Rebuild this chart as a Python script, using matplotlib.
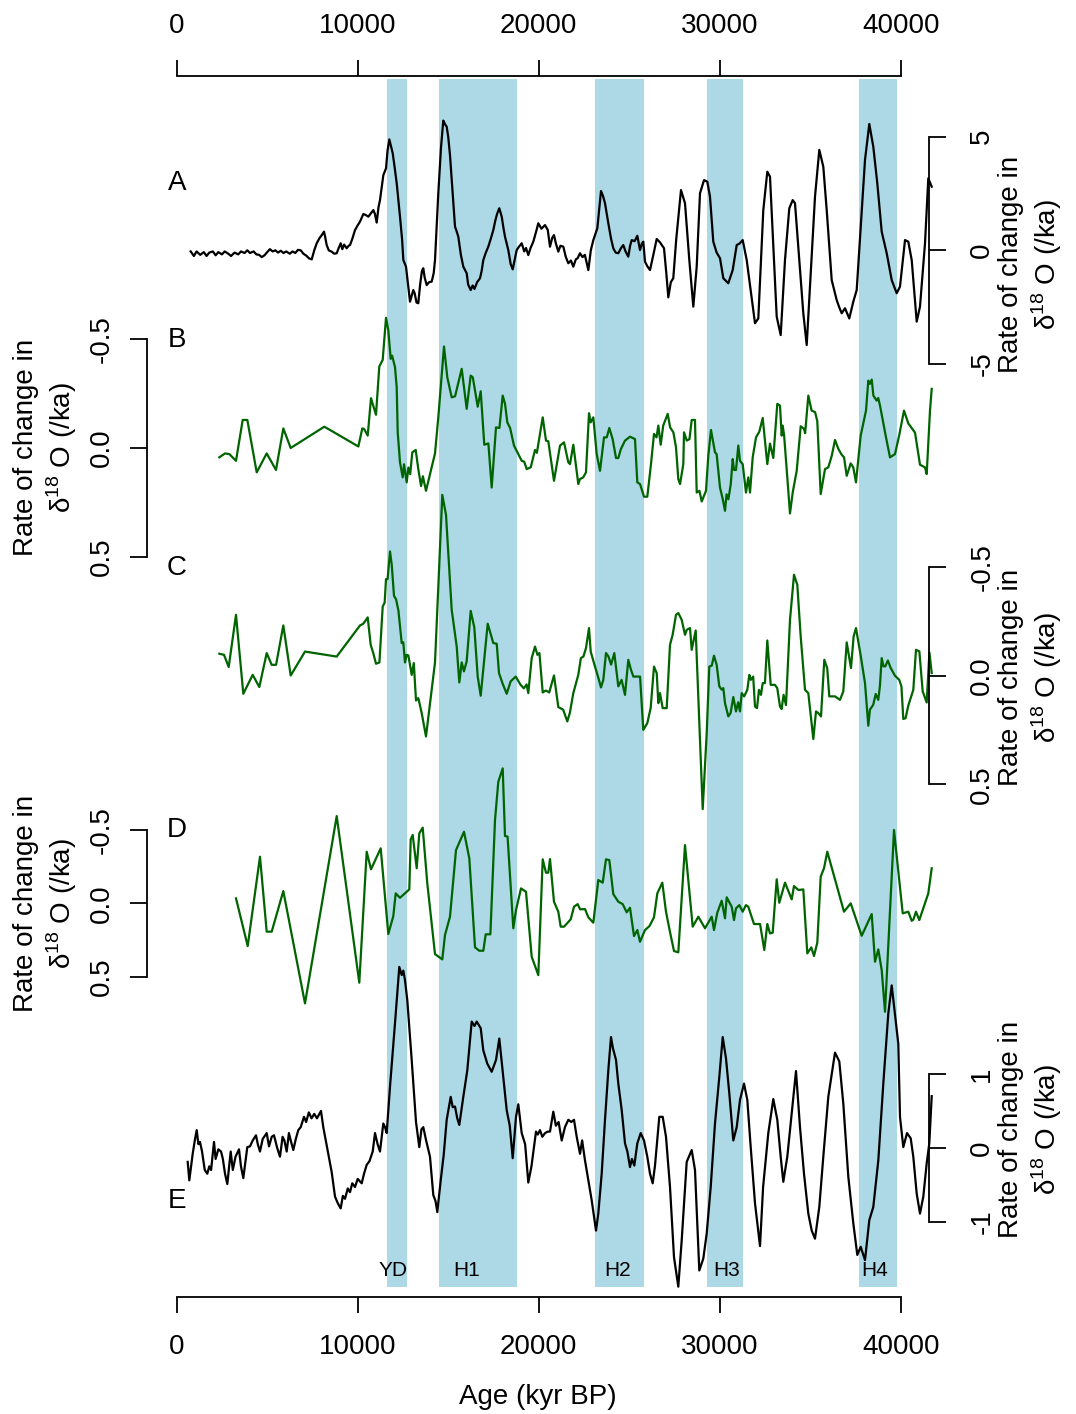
import matplotlib
matplotlib.use("Agg")
import matplotlib.pyplot as plt

plt.rcParams["font.family"] = ["Liberation Sans", "DejaVu Sans"]
plt.rcParams["mathtext.fontset"] = "custom"
plt.rcParams["mathtext.rm"] = "Liberation Sans"

# Heinrich / Younger Dryas intervals (yr BP)
BAND_START = [11600, 14500, 23100, 29300, 37700]
BAND_END = [12700, 18800, 25800, 31300, 39800]
BAND_LABELS = ["YD", "H1", "H2", "H3", "H4"]
BAND_LABEL_AGE = [11950, 16000, 24350, 30400, 38550]
AGE_TICKS = [0, 10000, 20000, 30000, 40000]

# A: high-resolution record, rate of change (/ka)
A_AGE = [773, 950, 1100, 1300, 1500, 1650, 1800, 2000, 2150, 2300, 2500, 2650,
         2850, 3000, 3200, 3400, 3550, 3750, 3900, 4050, 4250, 4400, 4550, 4700,
         4850, 5000, 5150, 5300, 5450, 5600, 5750, 5900, 6050, 6250, 6400, 6550,
         6700, 6850, 7000, 7182, 7300, 7459, 7600, 7735, 7900, 8000, 8138, 8200,
         8287, 8400, 8564, 8700, 8840, 8950, 9061, 9150, 9250, 9392, 9500, 9575,
         9700, 9851, 10000, 10127, 10312, 10450, 10589, 10700, 10865, 10950,
         11050, 11150, 11232, 11417, 11565, 11650, 11748, 11850, 11935, 12050,
         12155, 12250, 12337, 12450, 12522, 12669, 12780, 12890, 12980, 13072,
         13150, 13250, 13348, 13450, 13550, 13624, 13700, 13812, 13950, 14088,
         14200, 14271, 14360, 14453, 14600, 14729, 14820, 14917, 15000, 15099,
         15250, 15376, 15460, 15558, 15700, 15834, 16022, 16100, 16243, 16350,
         16450, 16600, 16757, 16850, 16939, 17080, 17215, 17350, 17492, 17600,
         17700, 17823, 17956, 18050, 18138, 18320, 18450, 18564, 18680, 18785,
         18900, 19061, 19200, 19300, 19425, 19550, 19702, 19850, 19978, 20150,
         20348, 20500, 20624, 20750, 20845, 20950, 21083, 21200, 21359, 21500,
         21636, 21780, 21912, 22050, 22150, 22282, 22420, 22550, 22742, 22880,
         23018, 23239, 23442, 23550, 23663, 23846, 24000, 24122, 24250, 24398,
         24550, 24674, 24800, 24950, 25050, 25138, 25300, 25448, 25597, 25700,
         25779, 25873, 26000, 26149, 26331, 26519, 26700, 26923, 27050, 27161,
         27300, 27436, 27600, 27862, 28083, 28321, 28542, 28729, 28912, 29133,
         29315, 29464, 29646, 29830, 30017, 30199, 30475, 30718, 30939, 31100,
         31271, 31492, 31750, 31950, 32133, 32409, 32630, 32779, 32961, 33149,
         33370, 33607, 33845, 34033, 34160, 34398, 34619, 34807, 35028, 35265,
         35503, 35724, 35912, 36188, 36464, 36600, 36740, 36923, 37160, 37381,
         37569, 37790, 38028, 38265, 38486, 38707, 38950, 39227, 39503, 39779,
         39961, 40238, 40420, 40608, 40884, 41066, 41343, 41525, 41713]
A_RATE = [-0.05, -0.25, -0.05, -0.20, -0.08, -0.25, -0.10, -0.05, -0.22, -0.08,
          -0.18, -0.05, -0.15, -0.25, -0.10, -0.18, -0.05, -0.12, 0.00, -0.12,
          -0.05, -0.18, -0.20, -0.30, -0.22, -0.08, 0.05, -0.05, 0.00, -0.10,
          -0.02, -0.12, -0.05, -0.15, -0.05, -0.12, 0.02, 0.00, -0.15, -0.25,
          -0.35, -0.40, 0.00, 0.31, 0.55, 0.65, 0.82, 0.60, 0.23, 0.00, -0.06,
          -0.15, -0.13, 0.10, 0.31, 0.05, 0.25, 0.09, 0.20, 0.23, 0.50, 0.89,
          1.10, 1.26, 1.60, 1.55, 1.48, 1.60, 1.77, 1.60, 1.22, 1.90, 2.21, 3.31,
          3.61, 4.40, 4.88, 4.55, 4.27, 3.60, 2.95, 2.20, 1.48, 0.50, -0.43,
          -0.72, -1.50, -2.26, -2.00, -1.75, -1.90, -2.30, -2.33, -1.50, -0.90,
          -0.79, -1.20, -1.53, -1.40, -1.38, -1.00, -0.43, 1.00, 2.51, 4.50,
          5.71, 5.55, 5.44, 5.00, 4.19, 2.50, 1.04, 0.85, 0.60, -0.20, -0.72,
          -1.01, -1.50, -1.75, -1.55, -1.70, -1.40, -1.23, -0.90, -0.43, -0.10,
          0.16, 0.50, 0.89, 1.30, 1.60, 1.85, 1.48, 1.00, 0.60, 0.01, -0.60,
          -0.84, -0.40, 0.01, 0.15, 0.31, -0.05, 0.10, -0.21, 0.10, 0.38, 0.80,
          1.19, 0.95, 1.11, 0.90, 0.16, 0.55, 0.67, 0.30, -0.06, 0.20, 0.16,
          -0.30, -0.57, -0.45, -0.72, -0.40, -0.35, -0.13, -0.30, -0.20, -0.87,
          0.00, 0.45, 0.97, 2.61, 2.40, 2.07, 1.19, 0.50, 0.09, -0.10, -0.13,
          0.10, 0.23, -0.05, -0.28, 0.20, 0.45, 0.40, 0.64, 0.01, 0.30, 0.38,
          -0.50, -0.70, -0.87, -0.21, 0.50, 0.35, 0.09, -1.00, -2.07, -1.40,
          -1.23, 0.50, 2.65, 2.07, -0.43, -2.48, -0.72, 2.51, 3.09, 3.02, 2.36,
          0.38, -0.10, -0.35, -1.23, -1.45, -0.87, 0.23, 0.30, 0.45, -0.43,
          -2.00, -3.21, -3.00, 1.77, 3.46, 3.24, 0.16, -2.92, -3.73, -0.43, 1.85,
          2.21, 2.07, -0.43, -2.77, -4.17, -1.01, 2.36, 4.42, 3.68, 1.77, -1.31,
          -2.19, -2.50, -2.77, -2.55, -3.00, -2.26, -1.75, 1.04, 3.98, 5.56,
          4.56, 2.95, 0.82, -0.13, -1.31, -1.89, -1.60, 0.45, 0.38, -0.43, -3.14,
          -2.48, 0.31, 3.17, 2.80]

# B
B_AGE = [2356, 2669, 2908, 3276, 3646, 3902, 4420, 4972, 5486, 5890, 6298, 8157,
         10036, 10254, 10350, 10553, 10735, 11011, 11193, 11381, 11564, 11691,
         11823, 11900, 12061, 12155, 12210, 12337, 12486, 12560, 12707, 12800,
         12900, 13017, 13204, 13348, 13500, 13600, 13773, 14271, 14453, 14768,
         14950, 15193, 15380, 15746, 16022, 16243, 16360, 16630, 16796, 16994,
         17220, 17403, 17641, 17830, 18011, 18140, 18265, 18420, 18635, 18873,
         19061, 19200, 19337, 19560, 19796, 19900, 20221, 20403, 20530, 20845,
         21177, 21398, 21636, 21730, 21912, 22188, 22280, 22460, 22613, 22779,
         22870, 23018, 23204, 23387, 23608, 23760, 23901, 24085, 24271, 24400,
         24540, 24768, 25044, 25320, 25448, 25600, 25818, 26000, 26204, 26370,
         26510, 26609, 26740, 26880, 27127, 27260, 27440, 27586, 27713, 27810,
         27990, 28028, 28180, 28330, 28453, 28635, 28729, 28880, 29006, 29243,
         29370, 29519, 29740, 29830, 30017, 30170, 30293, 30380, 30480, 30610,
         30718, 30790, 30900, 31028, 31120, 31270, 31453, 31580, 31674, 31823,
         32006, 32188, 32376, 32630, 32779, 32961, 33182, 33330, 33425, 33480,
         33560, 33702, 33884, 34033, 34254, 34475, 34660, 34720, 34896, 35080,
         35270, 35392, 35580, 35818, 36000, 36190, 36370, 36560, 36740, 36870,
         37017, 37238, 37380, 37530, 37790, 38083, 38210, 38300, 38400, 38490,
         38670, 38760, 38857, 39188, 39409, 39685, 39923, 40182, 40420, 40790,
         41066, 41343, 41436, 41619, 41713]
B_RATE = [0.043, 0.025, 0.028, 0.059, -0.129, -0.129, 0.112, 0.025, 0.101,
          -0.090, 0.000, -0.098, -0.007, -0.090, -0.088, -0.057, -0.229, -0.153,
          -0.375, -0.405, -0.599, -0.541, -0.410, -0.425, -0.372, -0.279,
          -0.072, 0.066, 0.135, 0.075, 0.158, 0.090, 0.120, 0.020, 0.009, 0.097,
          0.175, 0.130, 0.197, 0.025, -0.141, -0.467, -0.325, -0.233, -0.238,
          -0.364, -0.180, -0.333, -0.325, -0.190, -0.261, -0.015, -0.021, 0.182,
          -0.095, -0.092, -0.241, -0.203, -0.118, -0.092, -0.011, 0.028, 0.059,
          0.063, 0.097, 0.089, 0.009, 0.022, -0.141, -0.034, -0.031, 0.151,
          -0.011, -0.026, 0.066, 0.074, -0.015, 0.166, 0.143, 0.135, 0.112,
          -0.160, -0.118, -0.141, 0.028, 0.105, -0.049, -0.049, -0.092, -0.041,
          0.046, 0.046, 0.005, -0.034, -0.052, -0.041, 0.158, 0.166, 0.224,
          0.224, 0.074, -0.065, -0.049, -0.103, -0.015, -0.103, -0.157, -0.095,
          -0.072, -0.003, 0.143, 0.166, 0.074, -0.072, -0.034, -0.041, -0.129,
          -0.129, 0.205, 0.197, 0.246, 0.197, 0.036, -0.083, 0.020, 0.028, 0.182,
          0.236, 0.289, 0.213, 0.236, 0.167, 0.051, 0.101, 0.101, -0.011, 0.059,
          0.074, 0.205, 0.135, 0.205, 0.043, -0.049, -0.075, -0.138, 0.074,
          -0.020, 0.046, -0.203, -0.195, -0.057, -0.103, -0.057, 0.097, 0.301,
          0.205, 0.105, -0.100, -0.088, -0.068, -0.241, -0.172, -0.165, -0.123,
          0.212, 0.097, 0.089, 0.036, -0.037, 0.005, 0.031, 0.043, 0.128, 0.071,
          0.089, 0.158, -0.057, -0.172, -0.310, -0.295, -0.315, -0.241, -0.218,
          -0.230, -0.195, -0.049, 0.043, 0.028, -0.061, -0.172, -0.113, -0.071,
          0.077, 0.089, 0.120, -0.172, -0.272]

# C
C_AGE = [2356, 2613, 2873, 3276, 3680, 4199, 4564, 4972, 5249, 5490, 5890, 6298,
         7088, 8840, 10127, 10310, 10553, 10718, 10860, 11011, 11200, 11381,
         11490, 11564, 11650, 11785, 11880, 12006, 12120, 12250, 12431, 12520,
         12613, 12700, 12800, 12983, 13100, 13221, 13350, 13536, 13773, 14271,
         14674, 14878, 15193, 15470, 15613, 15746, 15870, 16020, 16243, 16442,
         16630, 16796, 17182, 17492, 17680, 17807, 18010, 18232, 18450, 18729,
         19000, 19180, 19330, 19425, 19613, 19796, 19930, 20040, 20221, 20400,
         20580, 20845, 21083, 21350, 21580, 21720, 21912, 22188, 22330, 22470,
         22613, 22779, 22873, 23110, 23300, 23442, 23570, 23718, 23850, 24000,
         24177, 24398, 24580, 24768, 24950, 25100, 25230, 25470, 25600, 25779,
         26000, 26185, 26370, 26520, 26609, 26700, 26850, 27072, 27254, 27400,
         27586, 27713, 27900, 28083, 28180, 28360, 28453, 28674, 29061, 29282,
         29425, 29560, 29685, 29830, 29978, 30110, 30200, 30293, 30475, 30600,
         30751, 30900, 31020, 31120, 31215, 31350, 31525, 31636, 31720, 31850,
         31950, 32060, 32170, 32280, 32376, 32500, 32630, 32818, 33050, 33180,
         33331, 33420, 33530, 33663, 33884, 34105, 34287, 34475, 34713, 34896,
         35172, 35320, 35450, 35597, 35779, 35940, 36055, 36370, 36646, 36829,
         37017, 37254, 37400, 37530, 37780, 38028, 38210, 38300, 38480, 38620,
         38760, 38850, 38950, 39050, 39150, 39290, 39450, 39685, 39920, 40040,
         40144, 40270, 40420, 40696, 40845, 41030, 41215, 41436, 41586, 41713]
C_RATE = [-0.100, -0.095, -0.039, -0.279, 0.084, -0.003, 0.053, -0.103, -0.049,
          -0.049, -0.230, 0.000, -0.110, -0.087, -0.230, -0.238, -0.267, -0.141,
          -0.103, -0.054, -0.060, -0.317, -0.335, -0.443, -0.443, -0.570,
          -0.509, -0.366, -0.350, -0.298, -0.149, -0.152, -0.060, -0.095,
          -0.092, -0.003, -0.057, 0.115, 0.104, 0.173, 0.280, -0.060, -0.830,
          -0.739, -0.302, -0.133, 0.032, -0.060, -0.019, -0.065, -0.297, -0.221,
          0.005, 0.093, -0.238, -0.149, -0.146, -0.011, 0.038, 0.084, 0.027,
          0.005, 0.043, 0.059, 0.041, 0.081, -0.080, -0.133, -0.095, -0.103,
          0.078, 0.069, 0.078, 0.000, 0.145, 0.157, 0.211, 0.172, 0.081, -0.003,
          -0.080, -0.087, -0.126, -0.218, -0.110, -0.041, 0.012, 0.055, 0.020,
          -0.103, -0.088, -0.050, -0.103, 0.050, 0.020, 0.089, -0.072, -0.026,
          0.005, 0.005, 0.005, 0.250, 0.219, 0.150, -0.041, -0.011, 0.127, 0.081,
          0.150, 0.150, -0.141, -0.187, -0.279, -0.287, -0.256, -0.187, -0.210,
          -0.218, -0.118, -0.207, 0.614, 0.265, -0.041, -0.045, -0.091, -0.050,
          0.050, 0.065, 0.058, 0.127, 0.188, 0.173, 0.099, 0.165, 0.123, 0.165,
          0.081, 0.096, 0.066, -0.003, 0.020, 0.005, 0.142, 0.150, 0.066, 0.089,
          0.035, 0.035, -0.161, 0.043, 0.043, 0.058, 0.142, 0.154, 0.089, 0.136,
          -0.256, -0.463, -0.417, -0.179, 0.066, 0.081, 0.292, 0.165, 0.173,
          0.188, -0.072, -0.034, 0.096, 0.096, 0.112, 0.073, -0.152, -0.034,
          -0.180, -0.218, -0.096, 0.035, 0.231, 0.157, 0.135, 0.085, 0.112,
          0.050, -0.080, -0.042, -0.042, -0.069, -0.034, 0.001, 0.020, 0.050,
          0.200, 0.196, 0.138, 0.066, -0.118, -0.111, 0.073, 0.124, -0.106,
          -0.011]

# D
D_AGE = [3276, 3923, 4602, 4972, 5249, 5890, 7088, 8840, 10088, 10497, 10735,
         11271, 11691, 11967, 12099, 12337, 12851, 12928, 13039, 13260, 13403,
         13591, 13845, 14271, 14674, 14823, 15099, 15431, 15873, 16166, 16481,
         16718, 16940, 17072, 17330, 17586, 17768, 18011, 18138, 18280, 18597,
         18746, 19022, 19298, 19613, 19978, 20221, 20403, 20530, 20624, 20845,
         21083, 21215, 21400, 21768, 21950, 22155, 22290, 22560, 22742, 23018,
         23293, 23536, 23718, 23901, 24122, 24398, 24640, 24861, 25044, 25265,
         25450, 25597, 25873, 26120, 26370, 26553, 26829, 27033, 27250, 27475,
         27713, 28083, 28508, 28818, 29188, 29558, 29685, 29867, 30110, 30293,
         30387, 30663, 30790, 30900, 31083, 31271, 31450, 31580, 31895, 32230,
         32464, 32630, 32780, 32928, 33149, 33293, 33608, 33978, 34105, 34350,
         34619, 34840, 35060, 35210, 35392, 35580, 35762, 35945, 36867, 37238,
         37845, 38398, 38580, 38763, 38950, 39133, 39630, 40111, 40420, 40608,
         40700, 40845, 41028, 41525, 41713]
D_RATE = [-0.034, 0.291, -0.318, 0.193, 0.193, -0.084, 0.682, -0.595, 0.541,
          -0.352, -0.232, -0.375, 0.209, 0.087, -0.068, -0.038, -0.095, -0.436,
          -0.466, -0.239, -0.477, -0.516, -0.136, 0.346, 0.382, 0.216, 0.091,
          -0.363, -0.488, -0.307, 0.300, 0.323, 0.323, 0.211, 0.211, -0.568,
          -0.829, -0.920, -0.459, -0.455, 0.170, 0.046, -0.102, -0.079, 0.364,
          0.489, -0.300, -0.209, -0.209, -0.302, -0.011, 0.057, 0.159, 0.159,
          0.109, 0.023, 0.005, 0.041, 0.039, 0.095, 0.132, -0.159, -0.141,
          -0.300, -0.295, -0.063, -0.011, 0.005, 0.061, 0.030, 0.223, 0.182,
          0.262, 0.182, 0.155, 0.095, -0.068, -0.141, 0.057, 0.193, 0.325, 0.334,
          -0.397, 0.159, 0.091, 0.170, 0.091, 0.182, 0.064, -0.018, 0.102,
          -0.041, 0.023, 0.114, 0.034, 0.012, 0.057, 0.012, 0.023, 0.141, 0.141,
          0.318, 0.141, 0.205, 0.200, -0.164, -0.004, -0.141, -0.027, -0.118,
          -0.091, -0.095, 0.341, 0.300, 0.359, 0.268, -0.182, -0.239, -0.352,
          0.057, 0.000, 0.221, 0.073, 0.398, 0.314, 0.455, 0.739, -0.500, 0.068,
          0.057, 0.119, 0.111, 0.057, 0.114, -0.068, -0.239]

# E
E_AGE = [608, 696, 884, 1000, 1105, 1200, 1287, 1400, 1550, 1691, 1800, 1900,
         2061, 2150, 2300, 2450, 2550, 2669, 2796, 2983, 3100, 3250, 3442, 3550,
         3680, 3901, 4050, 4200, 4381, 4480, 4602, 4750, 4972, 5100, 5250, 5376,
         5550, 5707, 5850, 5950, 6077, 6200, 6300, 6442, 6580, 6718, 6850, 7033,
         7150, 7300, 7450, 7600, 7750, 7972, 8099, 8376, 8564, 8746, 8900, 9061,
         9180, 9298, 9450, 9575, 9700, 9851, 10000, 10221, 10350, 10497, 10650,
         10829, 10956, 11100, 11232, 11414, 11510, 11602, 11785, 12061, 12298,
         12431, 12520, 12613, 12740, 12983, 13221, 13403, 13520, 13624, 13780,
         13994, 14177, 14300, 14398, 14586, 14750, 14917, 15138, 15250, 15376,
         15500, 15613, 15834, 16055, 16298, 16450, 16575, 16796, 16939, 17160,
         17403, 17641, 17823, 18044, 18232, 18400, 18564, 18746, 18873, 19061,
         19250, 19425, 19600, 19851, 19950, 20072, 20200, 20350, 20500, 20624,
         20807, 20950, 21100, 21271, 21450, 21636, 21800, 21950, 22099, 22282,
         22400, 22558, 22750, 22928, 23166, 23293, 23480, 23663, 23846, 23994,
         24100, 24271, 24398, 24586, 24768, 24900, 25044, 25150, 25282, 25448,
         25635, 25818, 26000, 26149, 26298, 26425, 26663, 26851, 27033, 27254,
         27475, 27713, 27901, 28177, 28453, 28635, 28873, 29094, 29282, 29503,
         29740, 29978, 30166, 30348, 30530, 30751, 30939, 31122, 31343, 31525,
         31713, 31950, 32227, 32398, 32685, 32961, 33182, 33370, 33514, 33735,
         33978, 34215, 34436, 34657, 34896, 35083, 35265, 35503, 35724, 36000,
         36370, 36608, 36829, 37105, 37381, 37602, 37790, 38028, 38265, 38486,
         38763, 39039, 39315, 39503, 39867, 39961, 40144, 40350, 40552, 40696,
         40884, 41066, 41249, 41436, 41580, 41713]
E_RATE = [-0.19, -0.44, -0.08, 0.10, 0.24, 0.05, 0.08, -0.05, -0.30, -0.35,
          -0.25, -0.30, 0.08, -0.15, -0.02, -0.05, -0.15, -0.35, -0.49, -0.05,
          -0.30, -0.12, -0.02, -0.25, -0.41, 0.01, 0.02, 0.10, 0.17, 0.05, -0.05,
          0.12, 0.20, 0.02, 0.15, 0.17, 0.00, -0.12, 0.15, 0.10, -0.05, 0.20,
          0.10, -0.03, 0.12, 0.24, 0.28, 0.42, 0.35, 0.48, 0.40, 0.46, 0.40,
          0.50, 0.28, -0.08, -0.33, -0.66, -0.75, -0.82, -0.65, -0.69, -0.55,
          -0.60, -0.48, -0.53, -0.42, -0.48, -0.35, -0.23, -0.18, -0.05, 0.20,
          0.05, -0.05, 0.33, 0.28, 0.20, 0.83, 1.69, 2.45, 2.34, 2.40, 2.27,
          2.00, 1.19, 0.35, 0.01, 0.25, 0.28, 0.10, -0.12, -0.64, -0.72, -0.87,
          -0.44, -0.10, 0.38, 0.69, 0.55, 0.56, 0.40, 0.31, 0.69, 1.05, 1.71,
          1.65, 1.71, 1.62, 1.32, 1.14, 1.03, 1.19, 1.48, 0.96, 0.51, 0.30,
          -0.14, 0.42, 0.59, 0.20, 0.05, -0.47, -0.25, 0.22, 0.18, 0.24, 0.15,
          0.20, 0.22, 0.22, 0.49, 0.30, 0.35, 0.10, 0.28, 0.38, 0.35, 0.38, 0.15,
          -0.08, 0.10, -0.17, -0.45, -0.71, -1.12, -0.89, -0.35, 0.38, 1.05,
          1.50, 1.35, 1.19, 0.87, 0.51, 0.06, -0.05, -0.26, -0.15, -0.24, 0.06,
          0.20, 0.10, -0.12, -0.35, -0.48, -0.24, 0.42, 0.42, 0.15, -0.53, -1.48,
          -1.88, -1.25, -0.19, -0.03, -0.30, -1.66, -1.50, -1.16, -0.53, 0.33,
          0.96, 1.50, 1.21, 0.74, 0.10, 0.28, 0.65, 0.87, 0.65, 0.01, -0.75,
          -1.33, -0.53, 0.20, 0.66, 0.38, -0.12, -0.46, -0.12, 0.47, 1.04, 0.28,
          -0.35, -0.89, -1.12, -1.23, -0.80, -0.12, 0.69, 1.29, 1.17, 0.60,
          -0.39, -1.02, -1.45, -1.34, -1.52, -0.98, -0.80, -0.17, 0.87, 1.82,
          2.20, 1.41, 0.42, 0.01, 0.20, 0.13, -0.12, -0.62, -0.89, -0.66, -0.21,
          0.06, 0.70]

BLACK = "black"
GREEN = "#006400"
BAND_COLOR = "#ADD8E6"

# page layout in pixels (figure is 1076 x 1414 at 100 dpi)
FIG_W, FIG_H = 1076, 1414
AX_LEFT, AX_RIGHT = 147, 929
AX_TOP, AX_BOT = 79, 1287
AGE0_PX, PX_PER_YR = 176.7, 0.0181
FS = 20


def fx(px):
    return px / FIG_W


def fy(py):
    return 1 - py / FIG_H


def ylim_from_anchors(v1, p1, v2, p2):
    per_px = (v2 - v1) / (p2 - p1)
    return v1 + (AX_BOT - p1) * per_px, v1 + (AX_TOP - p1) * per_px


RECT = [fx(AX_LEFT), fy(AX_BOT), fx(AX_RIGHT) - fx(AX_LEFT), (AX_BOT - AX_TOP) / FIG_H]
XLIM = ((AX_LEFT - AGE0_PX) / PX_PER_YR, (AX_RIGHT - AGE0_PX) / PX_PER_YR)

# (letter, age, rate, colour, side, ticks, labels, tick anchors px, letter y px, label centre px)
PANELS = [
    ("A", A_AGE, A_RATE, BLACK, "right", [-5, 0, 5], ["-5", "0", "5"],
     (5, 136.7, -5, 363.9), 183, (1031, 264)),
    ("B", B_AGE, B_RATE, GREEN, "left", [-0.5, 0.0, 0.5], ["-0.5", "0.0", "0.5"],
     (-0.5, 339.3, 0.5, 556.7), 340, (46, 447)),
    ("C", C_AGE, C_RATE, GREEN, "right", [-0.5, 0.0, 0.5], ["-0.5", "0.0", "0.5"],
     (-0.5, 566.7, 0.5, 784.3), 568, (1031, 677)),
    ("D", D_AGE, D_RATE, GREEN, "left", [-0.5, 0.0, 0.5], ["-0.5", "0.0", "0.5"],
     (-0.5, 830.0, 0.5, 976.7), 830, (46, 903)),
    ("E", E_AGE, E_RATE, BLACK, "right", [-1, 0, 1], ["-1", "0", "1"],
     (1, 1074.0, -1, 1221.7), 1201, (1031, 1129)),
]

fig = plt.figure(figsize=(FIG_W / 100, FIG_H / 100), dpi=100)

# shared age axes + event bands
ax0 = fig.add_axes(RECT)
ax0.set_xlim(XLIM)
ax0.set_ylim(0, 1)
for start, end in zip(BAND_START, BAND_END):
    ax0.axvspan(start, end, color=BAND_COLOR, lw=0)
for name, age in zip(BAND_LABELS, BAND_LABEL_AGE):
    ax0.text(age, (AX_BOT - 1270) / (AX_BOT - AX_TOP), name, ha="center",
             va="center", fontsize=15)
for side in ("left", "right"):
    ax0.spines[side].set_visible(False)
ax0.spines["bottom"].set_position(("outward", 7.2))
ax0.spines["top"].set_position(("outward", 2.2))
for side in ("top", "bottom"):
    ax0.spines[side].set_bounds(AGE_TICKS[0], AGE_TICKS[-1])
    ax0.spines[side].set_linewidth(1.3)
ax0.set_xticks(AGE_TICKS)
ax0.set_yticks([])
ax0.tick_params(axis="x", top=True, labeltop=True, bottom=True, labelbottom=True,
                direction="out", length=11.5, width=1.3, labelsize=FS, pad=15)

ylabel = "Rate of change in\nδ$^{18}$ O (/ka)"

for letter, age, rate, color, side, ticks, labels, anchors, letter_y, lab_xy in PANELS:
    ax = fig.add_axes(RECT)
    ax.patch.set_visible(False)
    ax.set_xlim(XLIM)
    ax.set_ylim(*ylim_from_anchors(*anchors))
    ax.plot(age, rate, color=color, lw=1.6, clip_on=False)
    for s in ax.spines.values():
        s.set_visible(False)
    sp = ax.spines[side]
    sp.set_visible(True)
    sp.set_bounds(min(ticks), max(ticks))
    sp.set_linewidth(1.3)
    ax.set_xticks([])
    ax.yaxis.set_ticks_position(side)
    ax.set_yticks(ticks)
    ax.set_yticklabels(labels, rotation=90, va="center")
    ax.tick_params(axis="y", direction="out", length=12, width=1.3,
                   labelsize=FS, pad=11 if side == "left" else 17)

    fig.text(fx(AGE0_PX), fy(letter_y), letter, ha="center", va="center", fontsize=FS)
    fig.text(fx(lab_xy[0]), fy(lab_xy[1]), ylabel, rotation=90, ha="center",
             va="center", multialignment="center", fontsize=FS, linespacing=1.2)

fig.text(fx(538), fy(1397), "Age (kyr BP)", ha="center", va="center", fontsize=FS)

fig.savefig("out.png", dpi=100)
